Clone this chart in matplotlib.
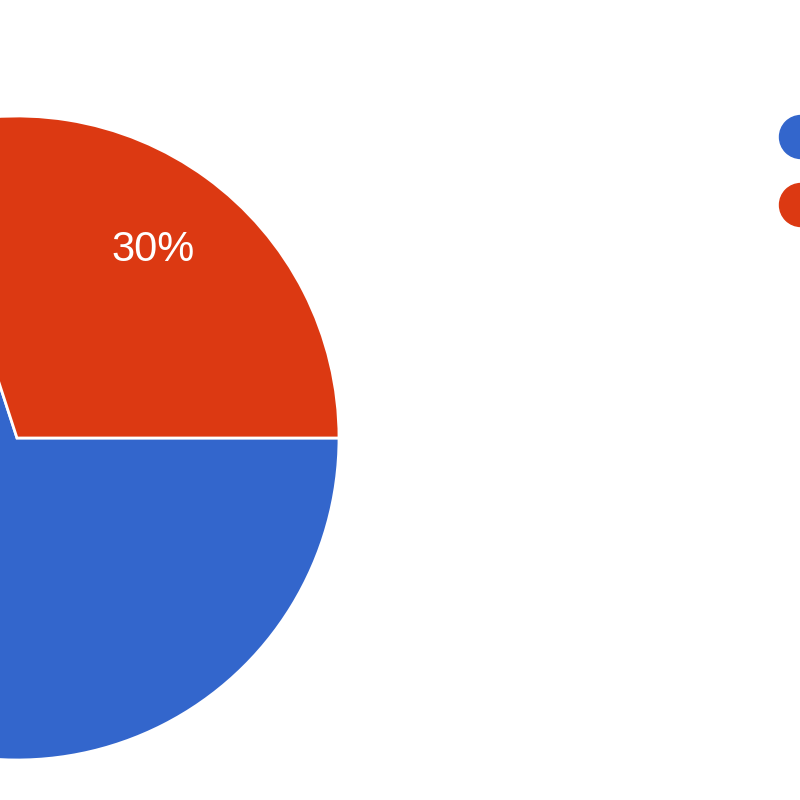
import matplotlib.pyplot as plt
from matplotlib.patches import Circle

# Дані діаграми
shares = [70, 30]
colors = ["#3366CC", "#DC3912"]

plt.rcParams['font.family'] = ['Liberation Sans', 'DejaVu Sans']

fig = plt.figure(figsize=(8, 8), dpi=100)

# Осі для круга: центр ~ (17, 438) px, радіус ~ 322 px
r_px = 322
cx, cy = 17, 800 - 438
ax = fig.add_axes([(cx - r_px) / 800, (cy - r_px) / 800, 2 * r_px / 800, 2 * r_px / 800])
wedges, texts, autotexts = ax.pie(
    shares, colors=colors, startangle=108, counterclock=True,
    autopct=lambda p: f"{p:.0f}%", pctdistance=0.72, radius=1,
    wedgeprops=dict(edgecolor="white", linewidth=2),
    textprops=dict(color="white", fontsize=30),
)
ax.set_xlim(-1, 1)
ax.set_ylim(-1, 1)
ax.set_aspect("equal")
ax.axis("off")

# Легенда (кружечки біля правого краю, текст поза полотном)
lax = fig.add_axes([0, 0, 1, 1])
lax.set_xlim(0, 800)
lax.set_ylim(800, 0)
lax.axis("off")
for i, c in enumerate(colors):
    lax.add_patch(Circle((801, 137 + 68 * i), 21.5, color=c, clip_on=False))

fig.savefig("out.png", dpi=100)
